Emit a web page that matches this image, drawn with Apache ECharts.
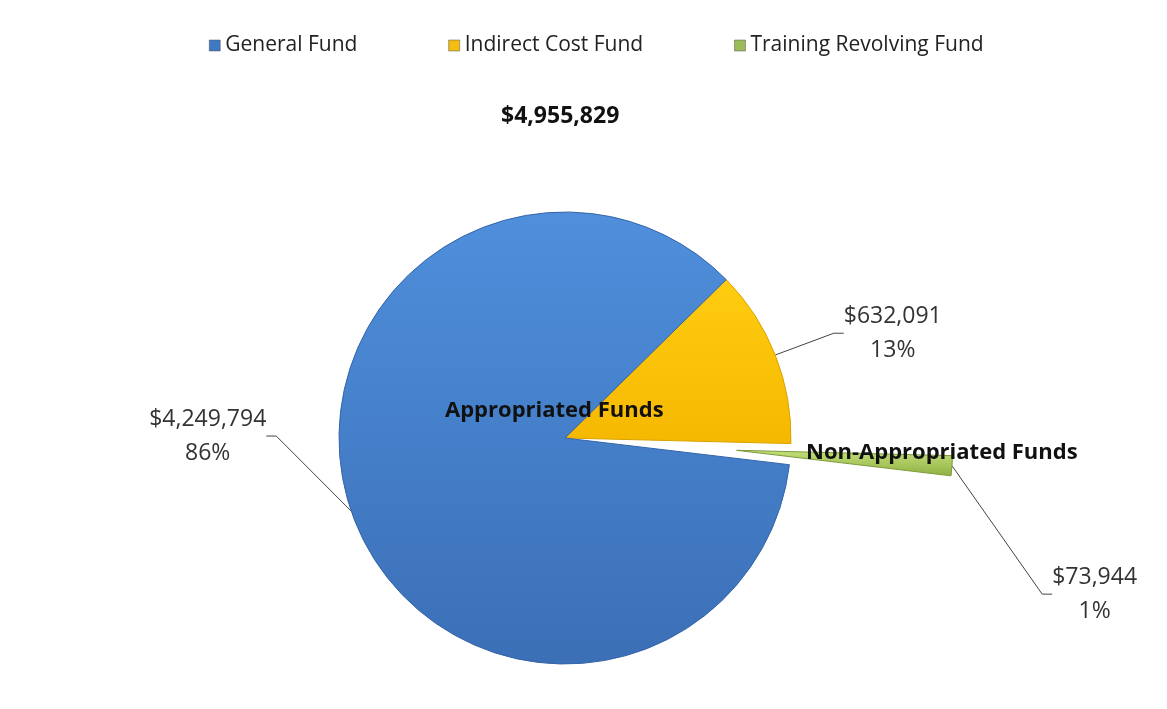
<!DOCTYPE html>
<html>
<head>
<meta charset="utf-8">
<script src="https://cdn.jsdelivr.net/npm/echarts@6/dist/echarts.min.js"></script>
<style>
  html, body { margin: 0; padding: 0; background: #fff; }
  #chart { width: 1167px; height: 709px; }
</style>
</head>
<body>
<div id="chart"></div>
<script>
// data
const funds = ['General Fund', 'Indirect Cost Fund', 'Training Revolving Fund'];
const amounts = [4249794, 632091, 73944];
const totalLabel = '$4,955,829';
const groupLabels = ['Appropriated Funds', 'Non-Appropriated Funds'];

const FONT = '"Open Sans", "Noto Sans", sans-serif';

function grad(top, bottom) {
    return new echarts.graphic.LinearGradient(0, 0, 0, 1, [
        { offset: 0, color: top },
        { offset: 1, color: bottom }
    ]);
}

const sliceStyle = {
    'General Fund': { color: grad('#4f8fdc', '#3b6fb6'), borderColor: '#3565a8' },
    'Indirect Cost Fund': { color: grad('#ffcc10', '#f5b800'), borderColor: '#d9a300' },
    'Training Revolving Fund': { color: grad('#c4e07a', '#8fb043'), borderColor: '#7d9b3a' }
};
const legendColors = ['#3f79c4', '#f3be10', '#9bbb59'];

// where each value label sits (share of the canvas)
const labelSpots = {
    'General Fund': [0.178, 0.615],
    'Indirect Cost Fund': [0.765, 0.47],
    'Training Revolving Fund': [0.938, 0.838]
};

const PIE_CENTER = [565, 438];
const PIE_R = 226;
const START = 44.5;
const EXPLODE = 172;

// clockwise order from the start angle: yellow, green, blue
const order = [1, 2, 0];
const exploded = 'Training Revolving Fund';

// angle of the exploded slice's bisector, so the second pie can be shifted out along it
const total = amounts.reduce((a, b) => a + b, 0);
let acc = 0, mid = 0;
order.forEach(i => {
    const span = amounts[i] / total * 360;
    if (funds[i] === exploded) mid = START - acc - span / 2;
    acc += span;
});
const rad = mid * Math.PI / 180;
const EXPLODED_CENTER = [PIE_CENTER[0] + EXPLODE * Math.cos(rad), PIE_CENTER[1] - EXPLODE * Math.sin(rad)];

const hidden = {
    itemStyle: { color: 'rgba(0,0,0,0)', borderWidth: 0 },
    label: { show: false },
    labelLine: { show: false }
};

function sliceData(showExploded) {
    return order.map(i => {
        const name = funds[i];
        const visible = (name === exploded) === showExploded;
        return visible
            ? { name: name, value: amounts[i], itemStyle: sliceStyle[name] }
            : Object.assign({ name: name, value: amounts[i] }, hidden);
    });
}

const labelCommon = {
    show: true,
    position: 'outside',
    fontFamily: FONT,
    fontSize: 23,
    color: '#333',
    align: 'center',
    lineHeight: 34,
    formatter: p => '$' + p.value.toLocaleString('en-US') + '\n' + Math.round(p.percent) + '%'
};
const lineCommon = {
    show: true,
    length: 20,
    length2: 10,
    lineStyle: { color: '#444', width: 1 }
};
function layoutFor(data) {
    return function (p) {
        const spot = labelSpots[data[p.dataIndex].name];
        return {
            x: spot[0] * 1167,
            y: spot[1] * 709,
            align: 'center',
            verticalAlign: 'middle'
        };
    };
}

const mainData = sliceData(false);
const outData = sliceData(true);

const chart = echarts.init(document.getElementById('chart'), null, { renderer: 'canvas' });

chart.setOption({
    backgroundColor: '#fff',
    animation: false,
    title: {
        text: totalLabel,
        left: 496,
        top: 100,
        textStyle: { fontFamily: FONT, fontSize: 23, fontWeight: 'bold', color: '#111' }
    },
    legend: {
        top: 30,
        left: 204,
        icon: 'rect',
        itemWidth: 11,
        itemHeight: 11,
        itemGap: 91,
        data: funds.map((f, i) => ({ name: f, itemStyle: { color: legendColors[i], borderColor: '#555', borderWidth: 0.5 } })),
        textStyle: { fontFamily: FONT, fontSize: 21, color: '#222' }
    },
    graphic: [
        {
            type: 'text', left: 445, top: 400,
            style: { text: groupLabels[0], font: 'bold 22px ' + FONT, fill: '#111' },
            z: 10
        },
        {
            type: 'text', left: 806, top: 442,
            style: { text: groupLabels[1], font: 'bold 22px ' + FONT, fill: '#111' },
            z: 10
        }
    ],
    series: [
        {
            name: 'main',
            type: 'pie',
            center: PIE_CENTER,
            radius: PIE_R,
            startAngle: START,
            clockwise: true,
            silent: true,
            data: mainData,
            itemStyle: { borderWidth: 1 },
            label: labelCommon,
            labelLine: lineCommon,
            labelLayout: layoutFor(mainData)
        },
        {
            name: 'exploded',
            type: 'pie',
            center: EXPLODED_CENTER,
            radius: PIE_R - 10,
            startAngle: START,
            clockwise: true,
            silent: true,
            data: outData,
            itemStyle: { borderWidth: 1 },
            label: labelCommon,
            labelLine: lineCommon,
            labelLayout: layoutFor(outData)
        }
    ]
});
</script>
</body>
</html>
